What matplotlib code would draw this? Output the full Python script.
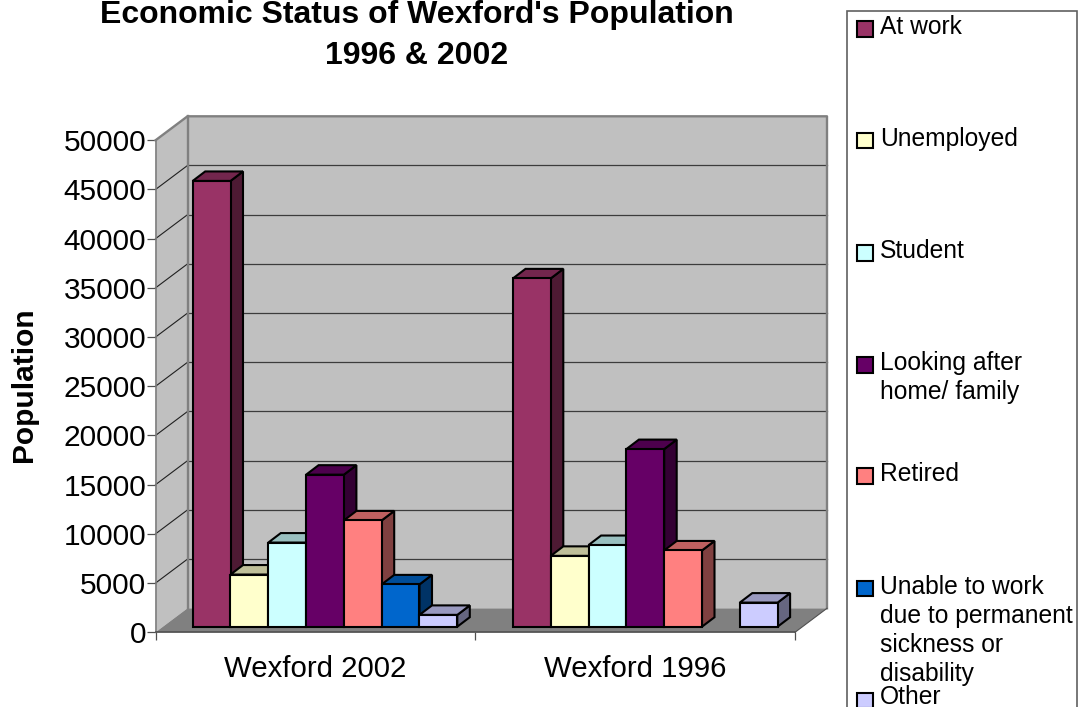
#!/usr/bin/env python3
"""Economic status of Wexford's population, fake-3D column chart."""
import matplotlib
matplotlib.use("Agg")
matplotlib.rcParams.update({"font.family": ["Liberation Sans", "DejaVu Sans"]})
import matplotlib.pyplot as plt
from matplotlib.colors import to_rgb
from matplotlib.patches import Polygon, Rectangle

W, H = 1078, 707

CATEGORIES = ["Wexford 2002", "Wexford 1996"]
SERIES = ["At work", "Unemployed", "Student", "Looking after\nhome/ family",
          "Retired", "Unable to work\ndue to permanent\nsickness or\ndisability", "Other"]
AT_WORK = [45300, 35400]
UNEMPLOYED = [5300, 7200]
STUDENT = [8550, 8300]
LOOKING_AFTER = [15450, 18050]
RETIRED = [10800, 7750]
UNABLE = [4300, 0]
OTHER = [1200, 2450]
VALUES = [AT_WORK, UNEMPLOYED, STUDENT, LOOKING_AFTER, RETIRED, UNABLE, OTHER]
COLORS = ["#993366", "#ffffcc", "#ccffff", "#660066", "#ff8080", "#0066cc", "#ccccff"]
YTICKS = list(range(0, 50001, 5000))

LEFT, RIGHT, TOP, BOTTOM = 155.5, 795.0, 140.3, 632.3
PX = 2 / (RIGHT - LEFT)
PY = 50000 / (BOTTOM - TOP)
WALL_DX, WALL_DY = 32 * PX, 24 * PY    # depth of the chart box
BAR_DX, BAR_DY = 12.5 * PX, 9.5 * PY   # depth of one bar
BASE = 5.6 * PY                        # bars stand a little back from the front edge
BAR_W = 37.8 * PX
GROUP_X0 = [(192.7 - LEFT) * PX, (513.0 - LEFT) * PX]
EDGE = "#808080"
BAR_LW = 1.5


def fx(x):
    return x / W


def fy(y):
    return 1 - y / H


def shade(color, k):
    return tuple(c * k for c in to_rgb(color))


def draw_box(ax):
    ax.add_patch(Polygon([(0, 0), (WALL_DX, WALL_DY), (WALL_DX, 50000 + WALL_DY), (0, 50000)],
                         fc="#c0c0c0", ec="none", clip_on=False, zorder=1))
    ax.add_patch(Polygon([(WALL_DX, WALL_DY), (2 + WALL_DX, WALL_DY),
                          (2 + WALL_DX, 50000 + WALL_DY), (WALL_DX, 50000 + WALL_DY)],
                         fc="#c0c0c0", ec="none", clip_on=False, zorder=1))
    ax.add_patch(Polygon([(0, 0), (2, 0), (2 + WALL_DX, WALL_DY), (WALL_DX, WALL_DY)],
                         fc="#808080", ec="none", clip_on=False, zorder=2))
    for t in YTICKS[1:-1]:
        ax.plot([WALL_DX, 2 + WALL_DX], [t + WALL_DY] * 2, color="#3c3c3c", lw=0.9,
                clip_on=False, zorder=2)
        ax.plot([0, WALL_DX], [t, t + WALL_DY], color="#202020", lw=0.8,
                clip_on=False, zorder=2)
    # thick grey outline of the walls
    ax.plot([0, WALL_DX, 2 + WALL_DX, 2 + WALL_DX], [50000, 50000 + WALL_DY, 50000 + WALL_DY, WALL_DY],
            color=EDGE, lw=1.7, clip_on=False, zorder=2)
    ax.plot([WALL_DX, WALL_DX], [WALL_DY, 50000 + WALL_DY], color=EDGE, lw=1.7,
            clip_on=False, zorder=2)
    ax.plot([0, 0], [0, 50000], color=EDGE, lw=1.2, clip_on=False, zorder=2)
    ax.plot([0, 2], [0, 0], color="#505050", lw=1.2, clip_on=False, zorder=2)
    ax.plot([2, 2 + WALL_DX], [0, WALL_DY], color="#505050", lw=0.8, clip_on=False, zorder=2)


def draw_bars(ax):
    z = 3
    for g, x0 in enumerate(GROUP_X0):
        for s, (vals, col) in enumerate(zip(VALUES, COLORS)):
            v = vals[g]
            if not v:
                continue
            xl = x0 + s * BAR_W
            xr = xl + BAR_W
            yb, yt = BASE, BASE + v
            ax.bar(xl, v, BAR_W, bottom=BASE, align="edge", color=col, edgecolor="black",
                   linewidth=BAR_LW, clip_on=False, zorder=z + 2)
            ax.add_patch(Polygon([(xr, yb), (xr + BAR_DX, yb + BAR_DY), (xr + BAR_DX, yt + BAR_DY), (xr, yt)],
                                 fc=shade(col, 0.5), ec="black", lw=BAR_LW, clip_on=False, zorder=z))
            ax.add_patch(Polygon([(xl, yt), (xr, yt), (xr + BAR_DX, yt + BAR_DY), (xl + BAR_DX, yt + BAR_DY)],
                                 fc=shade(col, 0.75), ec="black", lw=BAR_LW, clip_on=False, zorder=z + 1))
            z += 3


def draw_legend(fig):
    fig.add_artist(Rectangle((fx(847), fy(730)), (1076.7 - 847) / W, (730 - 10.7) / H,
                             transform=fig.transFigure, fc="white", ec="#606060", lw=1.2))
    square_y = [21, 132.7, 245, 357, 468, 580.7, 693]
    text_y = [15, 126.7, 239, 351, 462, 574.7, 685]  # last entry sits tight against the page edge
    for label, col, y, ty in zip(SERIES, COLORS, square_y, text_y):
        fig.add_artist(Rectangle((fx(857), fy(y + 15.5)), 15.5 / W, 15.5 / H,
                                 transform=fig.transFigure, fc=col, ec="black", lw=BAR_LW))
        fig.text(fx(880), fy(ty), label, fontsize=17.7, va="top", ha="left",
                 linespacing=1.26, color="black")


def main():
    fig = plt.figure(figsize=(W / 100, H / 100), dpi=100, facecolor="white")
    ax = fig.add_axes([fx(LEFT), fy(BOTTOM), (RIGHT - LEFT) / W, (BOTTOM - TOP) / H])
    ax.set_xlim(0, 2)
    ax.set_ylim(0, 50000)
    for sp in ax.spines.values():
        sp.set_visible(False)
    ax.patch.set_visible(False)

    draw_box(ax)
    draw_bars(ax)

    ax.set_yticks(YTICKS)
    ax.set_xticks([0, 1, 2])
    ax.set_xticklabels([])
    ax.set_xticks([0.5, 1.5], minor=True)
    ax.set_xticklabels(CATEGORIES, minor=True, fontsize=21.2)
    ax.tick_params(axis="y", length=6.2, width=0.9, color="#505050", labelsize=21.5, pad=0.5)
    ax.tick_params(axis="x", which="major", length=5.5, width=0.9, color="#505050")
    ax.tick_params(axis="x", which="minor", length=0, pad=16)

    fig.text(fx(24), fy(385), "Population", rotation=90, fontsize=21.5, fontweight="bold",
             ha="center", va="center")
    fig.text(fx(417), fy(23), "Economic Status of Wexford's Population",
             fontsize=23, fontweight="bold", ha="center", va="baseline")
    fig.text(fx(417), fy(64), "1996 & 2002",
             fontsize=23, fontweight="bold", ha="center", va="baseline")
    draw_legend(fig)
    fig.savefig("out.png", dpi=100)


if __name__ == "__main__":
    main()
